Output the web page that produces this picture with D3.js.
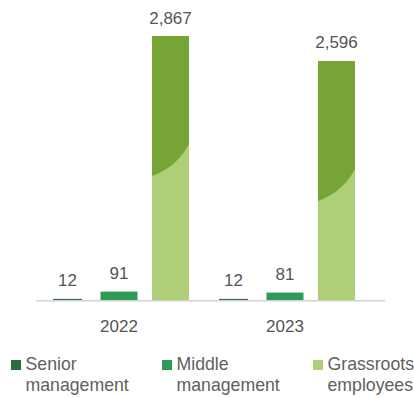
<!DOCTYPE html>
<html>
<head>
<meta charset="utf-8">
<script src="https://cdn.jsdelivr.net/npm/d3@7"></script>
<style>
  html, body { margin: 0; padding: 0; background: #fff; }
  svg { display: block; }
  text { font-family: "Liberation Sans", Arial, Helvetica, sans-serif; }
</style>
</head>
<body>
<svg id="chart" width="414" height="398"></svg>
<script>
// Employee headcount by level
const years = ["2022", "2023"];
const levels = ["Senior management", "Middle management", "Grassroots employees"];
const senior = [12, 12];
const middle = [91, 81];
const grassroots = [2867, 2596];
const valueLabels = [["12", "91", "2,867"], ["12", "81", "2,596"]];
const legendLines = [["Senior", "management"], ["Middle", "management"], ["Grassroots", "employees"]];

// styling
const colors = ["#2e6c3c", "#2f9a56", "#afce78"];
const accentTop = "#76a535";
const widthFactor = [0.78, 1, 1];
const textColor = "#555";

const series = [senior, middle, grassroots];
const rows = years.map((y, i) => ({
  year: y,
  values: levels.map((l, k) => ({ level: l, k, value: series[k][i], label: valueLabels[i][k] }))
}));

const svg = d3.select("#chart");
const baseY = 300;

const x = d3.scaleBand().domain(years).range([36, 368]);
const xi = d3.scaleBand().domain(levels).range([-70, 70]).paddingInner(0.2816);
const y = d3.scaleLinear().domain([0, d3.max(grassroots)]).range([baseY, 36]);

// baseline axis
const axis = svg.append("g").attr("transform", `translate(0,${baseY})`)
  .call(d3.axisBottom(x).tickSize(0).tickPadding(0).tickFormat(""));
axis.select(".domain").remove();
axis.append("line")
  .attr("x1", 36).attr("x2", 385).attr("y1", 0.75).attr("y2", 0.75)
  .attr("stroke", "#d2d2d2").attr("stroke-width", 1.5);

const groups = svg.append("g").selectAll("g").data(rows).join("g")
  .attr("transform", d => `translate(${x(d.year) + x.bandwidth() / 2},0)`);

const bw = xi.bandwidth();
const barX = d => xi(d.level) + bw * (1 - widthFactor[d.k]) / 2;
const barW = d => bw * widthFactor[d.k];

groups.selectAll("rect.bar").data(d => d.values).join("rect")
  .attr("class", "bar")
  .attr("x", barX)
  .attr("width", barW)
  .attr("y", d => y(d.value))
  .attr("height", d => Math.max(1, baseY - y(d.value)))
  .attr("fill", d => colors[d.k]);

// darker cap with curved lower edge on the tallest bars
const capRight = 108, capLeft = 140, capR = 67.5;
groups.selectAll("path.cap").data(d => d.values.filter(v => v.k === 2)).join("path")
  .attr("class", "cap")
  .attr("fill", accentTop)
  .attr("d", d => {
    const x0 = barX(d), x1 = x0 + barW(d), t = y(d.value);
    return `M${x0},${t}H${x1}V${t + capRight}A${capR},${capR} 0 0 1 ${x0},${t + capLeft}Z`;
  });

groups.selectAll("text.val").data(d => d.values).join("text")
  .attr("class", "val")
  .attr("x", d => xi(d.level) + bw / 2)
  .attr("y", d => y(d.value) - 12.5)
  .attr("text-anchor", "middle")
  .attr("font-size", 17)
  .attr("fill", textColor)
  .text(d => d.label);

groups.append("text")
  .attr("x", 0).attr("y", 331.5)
  .attr("text-anchor", "middle")
  .attr("font-size", 17)
  .attr("fill", textColor)
  .text(d => d.year);

// legend
const legend = svg.append("g").selectAll("g").data(levels).join("g")
  .attr("transform", (d, i) => `translate(${11 + i * 151},360)`);
legend.append("rect")
  .attr("width", 10).attr("height", 10)
  .attr("fill", (d, i) => colors[i]);
legend.append("text")
  .attr("x", 14.5).attr("y", 9.5)
  .attr("font-size", 17.7)
  .attr("fill", "#5f5f5f")
  .selectAll("tspan").data((d, i) => legendLines[i]).join("tspan")
  .attr("x", 14.5)
  .attr("dy", (d, j) => j === 0 ? 0 : 21.5)
  .text(d => d);
</script>
</body>
</html>
